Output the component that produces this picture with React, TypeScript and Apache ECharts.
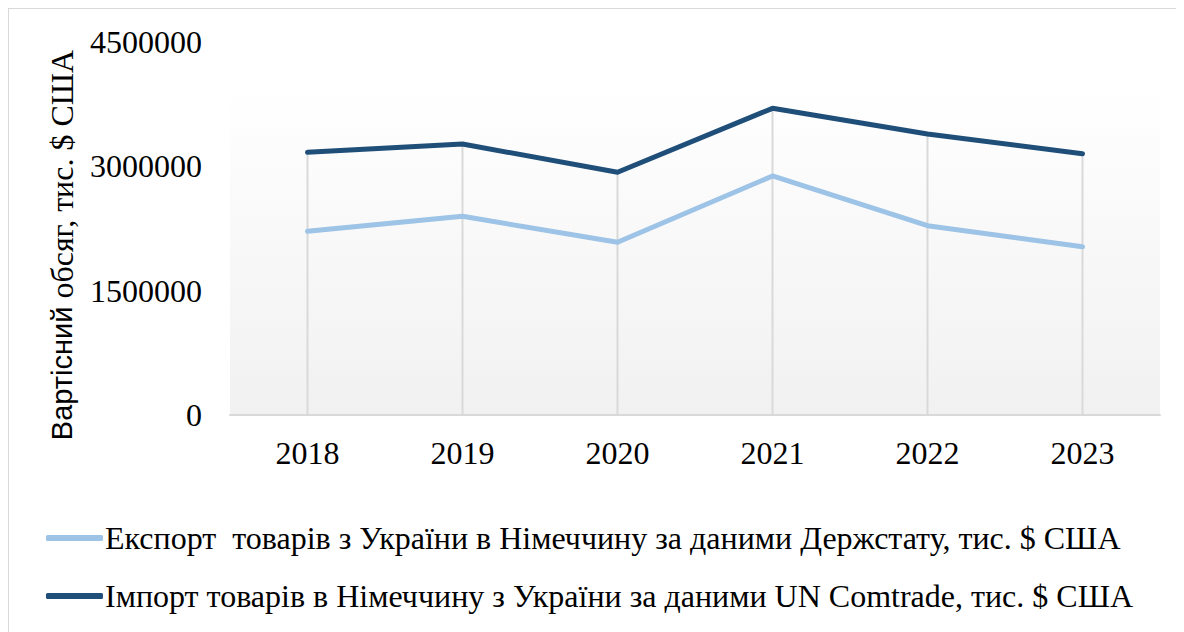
import React, { useEffect, useRef } from "react";
import * as echarts from "echarts";

const years = ["2018", "2019", "2020", "2021", "2022", "2023"];
const exportUkrstat = [2213000, 2394000, 2081000, 2880000, 2281000, 2028000];
const importComtrade = [3165000, 3265000, 2924000, 3695000, 3385000, 3148000];
const seriesNames = [
  "Експорт  товарів з України в Німеччину за даними Держстату, тис. $ США",
  "Імпорт товарів в Німеччину з України за даними UN Comtrade, тис. $ США",
];
const yAxisTitleA = "Вартісний";
const yAxisTitleB = " обсяг, тис. $ США";

const SERIF = "'Liberation Serif', 'Times New Roman', serif";
const SANS = "'Liberation Sans', Arial, sans-serif";

export default function App() {
  const ref = useRef<HTMLDivElement>(null);
  useEffect(() => {
    if (!ref.current) return;
    const chart = echarts.init(ref.current, undefined, { renderer: "svg" });
    const dropValues = years.map((_, i) => Math.max(exportUkrstat[i], importComtrade[i]));
    chart.setOption({
      animation: false,
      backgroundColor: "#ffffff",
      grid: {
        left: 221,
        top: 32.5,
        width: 930,
        height: 373.5,
        show: true,
        borderWidth: 0,
        backgroundColor: new echarts.graphic.LinearGradient(0, 0, 0, 1, [
          { offset: 0, color: "#ffffff" },
          { offset: 0.12, color: "#ffffff" },
          { offset: 1, color: "#f1f1f1" },
        ]),
      },
      xAxis: {
        type: "category",
        data: years,
        boundaryGap: true,
        axisLine: { show: true, lineStyle: { color: "#d9d9d9", width: 2 } },
        axisTick: { show: false },
        axisLabel: { color: "#000", fontFamily: SERIF, fontSize: 32, margin: 22 },
        splitLine: { show: false },
      },
      yAxis: {
        type: "value",
        min: 0,
        max: 4500000,
        interval: 1500000,
        axisLine: { show: false },
        axisTick: { show: false },
        splitLine: { show: false },
        axisLabel: {
          color: "#000",
          fontFamily: SERIF,
          fontSize: 32,
          margin: 28,
          formatter: (v: number) => String(v),
        },
      },
      legend: {
        orient: "vertical",
        left: 32,
        top: 508,
        itemWidth: 57,
        itemHeight: 6,
        itemGap: 26,
        icon: "roundRect",
        data: seriesNames,
        textStyle: {
          color: "#000",
          fontFamily: SERIF,
          fontSize: 32,
          lineHeight: 32,
          padding: [0, 0, 0, -3],
        },
      },
      graphic: [
        {
          type: "text",
          x: 53,
          y: 236,
          rotation: Math.PI / 2,
          style: {
            text: "{a|" + yAxisTitleA + "}{b|" + yAxisTitleB + "}",
            align: "center",
            verticalAlign: "middle",
            rich: {
              a: { fontFamily: SANS, fontSize: 29, fill: "#000" },
              b: { fontFamily: SERIF, fontSize: 32, fill: "#000" },
            },
          },
        },
      ],
      series: [
        {
          name: "drop",
          type: "bar",
          data: dropValues,
          barWidth: 2,
          silent: true,
          z: 1,
          itemStyle: { color: "#d9d9d9" },
        },
        {
          name: seriesNames[0],
          type: "line",
          data: exportUkrstat,
          symbol: "none",
          z: 3,
          lineStyle: { color: "#9dc3e6", width: 5, cap: "round", join: "round" },
          itemStyle: { color: "#9dc3e6" },
        },
        {
          name: seriesNames[1],
          type: "line",
          data: importComtrade,
          symbol: "none",
          z: 4,
          lineStyle: { color: "#1f4e79", width: 5, cap: "round", join: "round" },
          itemStyle: { color: "#1f4e79" },
        },
      ],
    });
    return () => chart.dispose();
  }, []);
  return (
    <div
      ref={ref}
      style={{
        width: 1176,
        height: 624,
        borderTop: "1px solid #d9d9d9",
        borderLeft: "1px solid #d9d9d9",
        boxSizing: "border-box",
      }}
    />
  );
}
